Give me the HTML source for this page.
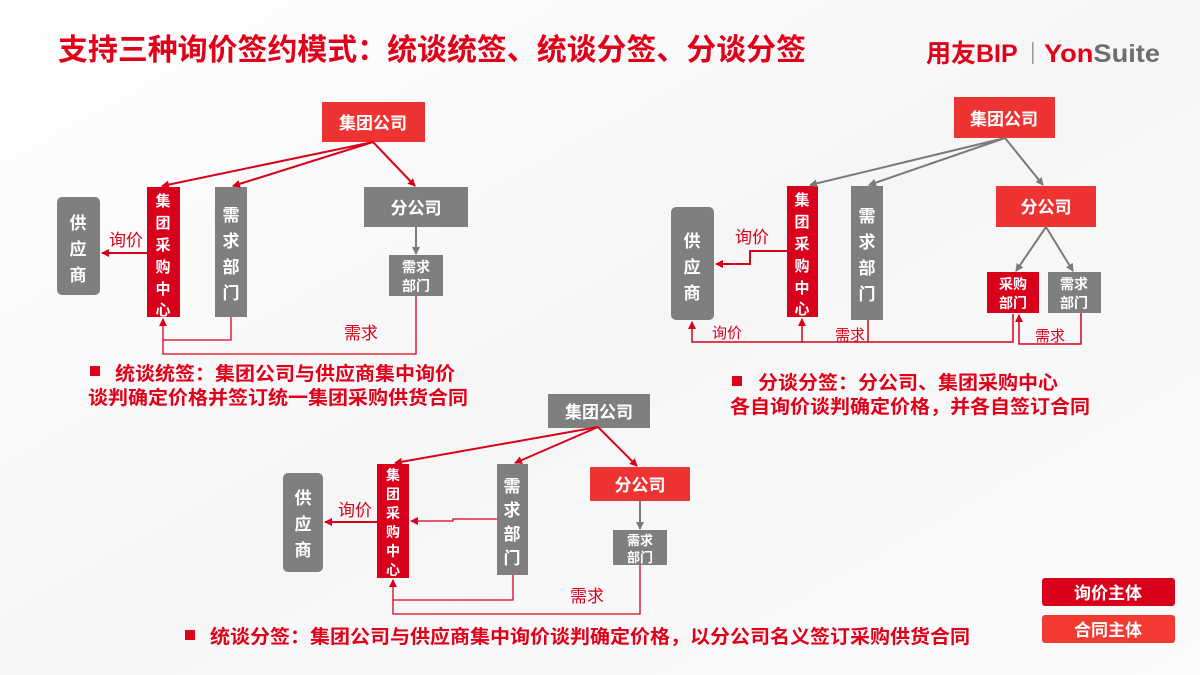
<!DOCTYPE html>
<html><head><meta charset="utf-8"><style>
html,body{margin:0;padding:0;width:1200px;height:675px;overflow:hidden;background:#fff}
svg{display:block}
text{font-family:"Liberation Sans","Noto Sans CJK SC",sans-serif}
.b{font-weight:bold}
</style></head><body>
<svg width="1200" height="675" viewBox="0 0 1200 675" xmlns="http://www.w3.org/2000/svg">
<defs>
<linearGradient id="bg" x1="0" y1="0" x2="1" y2="1">
<stop offset="0" stop-color="#ffffff"/><stop offset="0.5" stop-color="#f6f6f6"/><stop offset="1" stop-color="#fbfbfb"/>
</linearGradient>
<marker id="ar" markerWidth="8" markerHeight="8" refX="7" refY="4" orient="auto" markerUnits="userSpaceOnUse"><path d="M0,0 L8,4 L0,8 z" fill="#d9001b"/></marker>
<marker id="ag" markerWidth="8" markerHeight="8" refX="7" refY="4" orient="auto" markerUnits="userSpaceOnUse"><path d="M0,0 L8,4 L0,8 z" fill="#7a7a7a"/></marker>
</defs>
<rect width="1200" height="675" fill="url(#bg)"/>

<g class="b">
<!-- Title -->
<text x="58" y="60" font-size="30" fill="#e0001a" textLength="748" lengthAdjust="spacingAndGlyphs">支持三种询价签约模式：统谈统签、统谈分签、分谈分签</text>
<text x="926" y="62" font-size="25" fill="#e0001a">用友BIP</text>
<rect x="1032" y="42" width="1.5" height="22" fill="#999"/>
<text x="1044" y="62" font-size="25" fill="#e0001a" textLength="116" lengthAdjust="spacingAndGlyphs">Yon<tspan fill="#6e6e6e">Suite</tspan></text>

<!-- ========== Diagram 1 ========== -->
<rect x="322" y="102" width="103" height="40" fill="#ee3333"/>
<text x="373" y="129" font-size="17" fill="#fff" text-anchor="middle">集团公司</text>
<rect x="147" y="187" width="33" height="130" fill="#d9001b"/>
<g font-size="15" fill="#fff" text-anchor="middle"><text x="163" y="206">集</text><text x="163" y="228">团</text><text x="163" y="250">采</text><text x="163" y="272">购</text><text x="163" y="294">中</text><text x="163" y="315">心</text></g>
<rect x="215" y="187" width="32" height="130" fill="#7f7f7f"/>
<g font-size="17" fill="#fff" text-anchor="middle"><text x="231" y="221">需</text><text x="231" y="247">求</text><text x="231" y="273">部</text><text x="231" y="299">门</text></g>
<rect x="364" y="187" width="104" height="40" fill="#7f7f7f"/>
<text x="416" y="214" font-size="17" fill="#fff" text-anchor="middle">分公司</text>
<rect x="389" y="255" width="54" height="41" fill="#7f7f7f"/>
<text x="416" y="272" font-size="14" fill="#fff" text-anchor="middle">需求</text>
<text x="416" y="291" font-size="14" fill="#fff" text-anchor="middle">部门</text>
<rect x="57" y="197" width="43" height="98" rx="5" fill="#7f7f7f"/>
<g font-size="17" fill="#fff" text-anchor="middle"><text x="78" y="229">供</text><text x="78" y="255">应</text><text x="78" y="281">商</text></g>
<rect x="90" y="366" width="10" height="10" fill="#e0001a"/>
<text x="115" y="380" font-size="19" fill="#e0001a" textLength="340" lengthAdjust="spacingAndGlyphs">统谈统签：集团公司与供应商集中询价</text>
<text x="88" y="404" font-size="19" fill="#e0001a" textLength="380" lengthAdjust="spacingAndGlyphs">谈判确定价格并签订统一集团采购供货合同</text>

<!-- ========== Diagram 2 ========== -->
<rect x="954" y="97" width="101" height="41" fill="#ee3333"/>
<text x="1004" y="125" font-size="17" fill="#fff" text-anchor="middle">集团公司</text>
<rect x="787" y="186" width="31" height="131" fill="#d9001b"/>
<g font-size="15" fill="#fff" text-anchor="middle"><text x="802" y="205">集</text><text x="802" y="227">团</text><text x="802" y="249">采</text><text x="802" y="271">购</text><text x="802" y="293">中</text><text x="802" y="314">心</text></g>
<rect x="851" y="186" width="32" height="134" fill="#7f7f7f"/>
<g font-size="17" fill="#fff" text-anchor="middle"><text x="867" y="222">需</text><text x="867" y="248">求</text><text x="867" y="274">部</text><text x="867" y="300">门</text></g>
<rect x="996" y="186" width="100" height="41" fill="#ee3333"/>
<text x="1046" y="213" font-size="17" fill="#fff" text-anchor="middle">分公司</text>
<rect x="987" y="272" width="52" height="41" fill="#d9001b"/>
<text x="1013" y="289" font-size="14" fill="#fff" text-anchor="middle">采购</text>
<text x="1013" y="308" font-size="14" fill="#fff" text-anchor="middle">部门</text>
<rect x="1048" y="272" width="53" height="41" fill="#7f7f7f"/>
<text x="1074" y="289" font-size="14" fill="#fff" text-anchor="middle">需求</text>
<text x="1074" y="308" font-size="14" fill="#fff" text-anchor="middle">部门</text>
<rect x="671" y="207" width="43" height="113" rx="5" fill="#7f7f7f"/>
<g font-size="17" fill="#fff" text-anchor="middle"><text x="692" y="247">供</text><text x="692" y="273">应</text><text x="692" y="299">商</text></g>
<rect x="732" y="376" width="10" height="10" fill="#e0001a"/>
<text x="758" y="389" font-size="19" fill="#e0001a" textLength="300" lengthAdjust="spacingAndGlyphs">分谈分签：分公司、集团采购中心</text>
<text x="730" y="413" font-size="19" fill="#e0001a" textLength="360" lengthAdjust="spacingAndGlyphs">各自询价谈判确定价格，并各自签订合同</text>

<!-- ========== Diagram 3 ========== -->
<rect x="548" y="394" width="102" height="34" fill="#7f7f7f"/>
<text x="599" y="418" font-size="17" fill="#fff" text-anchor="middle">集团公司</text>
<rect x="377" y="464" width="32" height="114" fill="#d9001b"/>
<g font-size="14" fill="#fff" text-anchor="middle"><text x="393" y="480">集</text><text x="393" y="499">团</text><text x="393" y="518">采</text><text x="393" y="537">购</text><text x="393" y="556">中</text><text x="393" y="575">心</text></g>
<rect x="497" y="464" width="31" height="111" fill="#7f7f7f"/>
<g font-size="17" fill="#fff" text-anchor="middle"><text x="512" y="492">需</text><text x="512" y="516">求</text><text x="512" y="540">部</text><text x="512" y="564">门</text></g>
<rect x="590" y="467" width="100" height="34" fill="#ee3333"/>
<text x="640" y="491" font-size="17" fill="#fff" text-anchor="middle">分公司</text>
<rect x="613" y="530" width="54" height="35" fill="#7f7f7f"/>
<text x="640" y="545" font-size="13" fill="#fff" text-anchor="middle">需求</text>
<text x="640" y="562" font-size="13" fill="#fff" text-anchor="middle">部门</text>
<rect x="283" y="473" width="40" height="99" rx="5" fill="#7f7f7f"/>
<g font-size="17" fill="#fff" text-anchor="middle"><text x="303" y="504">供</text><text x="303" y="530">应</text><text x="303" y="556">商</text></g>
<rect x="185" y="630" width="10" height="10" fill="#e0001a"/>
<text x="210" y="643" font-size="19" fill="#e0001a" textLength="760" lengthAdjust="spacingAndGlyphs">统谈分签：集团公司与供应商集中询价谈判确定价格，以分公司名义签订采购供货合同</text>

<!-- Legend -->
<rect x="1042" y="578" width="133" height="28" rx="3" fill="#d9001b"/>
<text x="1108" y="599" font-size="17" fill="#fff" text-anchor="middle">询价主体</text>
<rect x="1042" y="615" width="133" height="28" rx="3" fill="#f23a33"/>
<text x="1108" y="636" font-size="17" fill="#fff" text-anchor="middle">合同主体</text>
</g>

<!-- Connectors & labels (normal weight) -->
<text x="109" y="246" font-size="17" fill="#d9001b">询价</text>
<g stroke="#d9001b" stroke-width="2" fill="none">
<line x1="147" y1="253" x2="102" y2="253" marker-end="url(#ar)"/>
<line x1="373" y1="142" x2="162" y2="186" marker-end="url(#ar)"/>
<line x1="373" y1="142" x2="233" y2="186" marker-end="url(#ar)"/>
<line x1="373" y1="142" x2="415" y2="186" marker-end="url(#ar)"/>
</g>
<line x1="416" y1="227" x2="416" y2="254" stroke="#7a7a7a" stroke-width="2" marker-end="url(#ag)"/>
<g stroke="#d9001b" stroke-width="1.3" fill="none">
<polyline points="231,317 231,340 163,340"/>
<polyline points="416,296 416,354 163,354 163,319" marker-end="url(#ar)"/>
</g>
<text x="344" y="339" font-size="17" fill="#d9001b">需求</text>

<g stroke="#7a7a7a" stroke-width="2" fill="none">
<line x1="1005" y1="138" x2="810" y2="185" marker-end="url(#ag)"/>
<line x1="1005" y1="138" x2="869" y2="185" marker-end="url(#ag)"/>
<line x1="1005" y1="138" x2="1043" y2="185" marker-end="url(#ag)"/>
<line x1="1046" y1="227" x2="1016" y2="271" marker-end="url(#ag)"/>
<line x1="1046" y1="227" x2="1073" y2="271" marker-end="url(#ag)"/>
</g>
<polyline points="787,251 750,251 750,264 716,264" stroke="#d9001b" stroke-width="2" fill="none" marker-end="url(#ar)"/>
<text x="735" y="243" font-size="17" fill="#d9001b">询价</text>
<g stroke="#d9001b" stroke-width="1.5" fill="none">
<polyline points="1013,314 1013,342 692,342 692,322" marker-end="url(#ar)"/>
<line x1="802" y1="342" x2="802" y2="319" marker-end="url(#ar)"/>
<polyline points="868,320 868,342"/>
<polyline points="1081,313 1081,344 1019,344 1019,315" marker-end="url(#ar)"/>
</g>
<text x="712" y="338" font-size="15" fill="#d9001b">询价</text>
<text x="835" y="340" font-size="15" fill="#d9001b">需求</text>
<text x="1035" y="341" font-size="15" fill="#d9001b">需求</text>

<text x="338" y="516" font-size="17" fill="#d9001b">询价</text>
<g stroke="#d9001b" stroke-width="2" fill="none">
<line x1="377" y1="522" x2="325" y2="522" marker-end="url(#ar)"/>
<line x1="598" y1="427" x2="395" y2="463" marker-end="url(#ar)"/>
<line x1="598" y1="427" x2="515" y2="463" marker-end="url(#ar)"/>
<line x1="598" y1="427" x2="637" y2="466" marker-end="url(#ar)"/>
</g>
<line x1="640" y1="501" x2="640" y2="529" stroke="#7a7a7a" stroke-width="2" marker-end="url(#ag)"/>
<g stroke="#d9001b" stroke-width="1.3" fill="none">
<polyline points="497,519 453,519 453,521 411,521" marker-end="url(#ar)"/>
<polyline points="513,575 513,600 393,600"/>
<polyline points="640,565 640,614 393,614 393,580" marker-end="url(#ar)"/>
</g>
<text x="570" y="602" font-size="17" fill="#d9001b">需求</text>
</svg>
</body></html>
